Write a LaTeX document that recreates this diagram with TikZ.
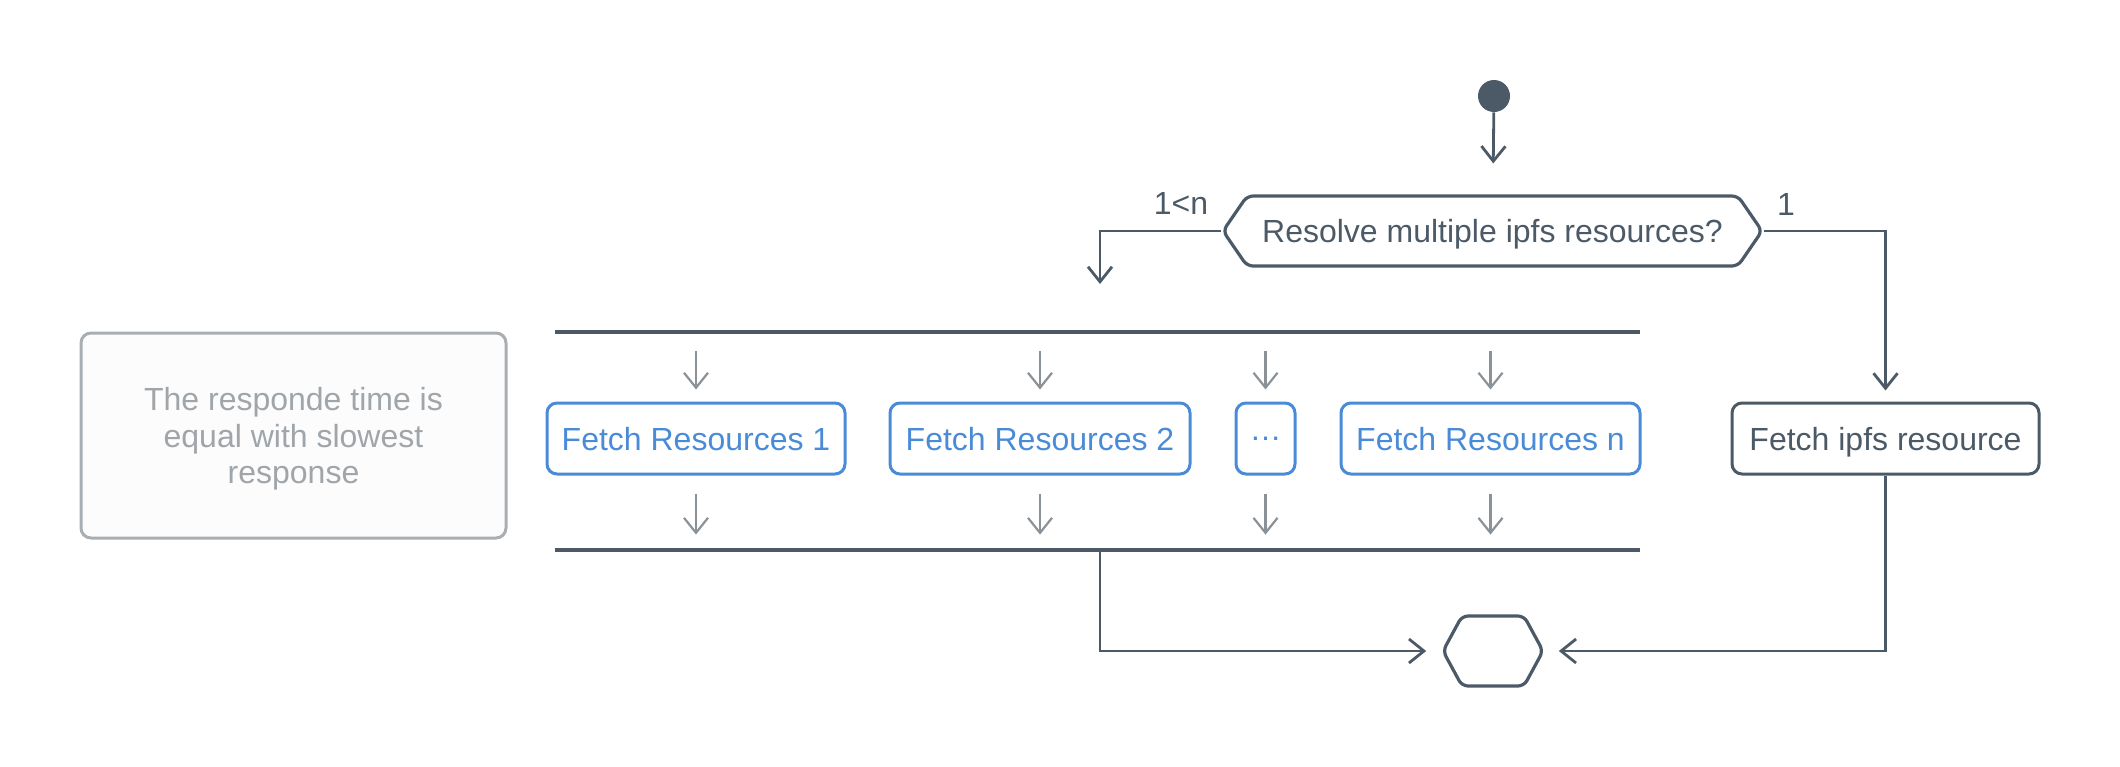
\documentclass[tikz,border=0pt]{standalone}
\usepackage{fontspec}
\setmainfont{Liberation Sans}
\usetikzlibrary{arrows.meta,shapes.symbols}
\definecolor{slate}{HTML}{4C5A67}
\definecolor{fetchblue}{HTML}{4A8BD8}
\definecolor{minorgray}{HTML}{8A9197}
\definecolor{noteline}{HTML}{A9AEB3}
\definecolor{notetext}{HTML}{A0A5AA}
\definecolor{notefill}{HTML}{FCFCFC}
\tikzset{
	flow/.style={draw=slate, line width=1.4pt, -{Straight Barb[length=7.5pt,width=12pt]}},
	minor/.style={draw=minorgray, line width=1.1pt, -{Straight Barb[length=7.5pt,width=12pt]}},
	startdot/.style={circle, fill=slate, inner sep=0pt, minimum size=16pt},
	hexnode/.style={signal, signal to=west and east, draw=slate, line width=1.6pt,
		rounded corners=3pt, inner sep=0pt, text=slate, text depth=0pt},
	barnode/.style={fill=slate, inner sep=0pt, minimum height=2pt},
	fetchbox/.style={draw=fetchblue, line width=1.5pt, rounded corners=5pt, text=fetchblue,
		minimum height=35.5pt, inner sep=0pt, text depth=0pt},
	ipfsbox/.style={fetchbox, draw=slate, text=slate},
	notebox/.style={draw=noteline, fill=notefill, line width=1.5pt, rounded corners=5pt,
		text=notetext, align=center, text depth=0pt, minimum width=212.5pt, minimum height=102.5pt}
}
\begin{document}
\begin{tikzpicture}[x=0.5pt, y=-0.5pt, font=\fontsize{16}{18.3}\selectfont]
				\useasboundingbox (0,0) rectangle (2120,766);

				\node[startdot] (start) at (1494,96) {};
				\node[hexnode, signal pointer angle=111, minimum width=269.5pt, minimum height=35pt] (ask) at (1492.5,231) {Resolve multiple ipfs resources?};
				\node[text=slate] (many) at (1181,203) {1<n};
				\node[text=slate] (single) at (1786,204) {1};
				\coordinate (manyend) at (1100,284);
				\draw[flow, shorten >=15.5pt] (start) -- (ask);
				\draw[flow] (ask.west) -| (manyend);

				\node[barnode, minimum width=542.5pt] (fork) at (1097.5,332) {};
				\node[barnode, minimum width=542.5pt] (join) at (1097.5,550) {};

				\node[fetchbox, minimum width=149pt] (f1) at (696,438.5) {Fetch Resources 1};
				\node[fetchbox, minimum width=150pt] (f2) at (1040,438.5) {Fetch Resources 2};
				\node[fetchbox, minimum width=29.5pt] (fdots) at (1265.5,438.5) {…};
				\node[fetchbox, minimum width=149.5pt] (fn) at (1490.5,438.5) {Fetch Resources n};
				\node[ipfsbox, minimum width=153.5pt] (ipfs) at (1885.5,438.5) {Fetch ipfs resource};

				\foreach \f in {f1,f2,fdots,fn} {
					\draw[minor, shorten <=8.5pt, shorten >=6pt] (\f.north |- fork.south) -- (\f.north);
					\draw[minor, shorten <=9pt, shorten >=6.5pt] (\f.south) -- (\f.south |- join.north);
				}

				\draw[flow, shorten >=5.5pt] (ask.east) -| (ipfs.north);

				\node[hexnode, signal pointer angle=123, minimum width=50pt, minimum height=35pt] (merge) at (1493,651) {};
				\draw[flow, shorten >=7.5pt] (join.south -| manyend) |- (merge.west);
				\draw[flow, shorten >=7pt] (ipfs.south) |- (merge.east);

				\node[notebox] (note) at (293.5,435.5) {The responde time is\\equal with slowest\\response};
			\end{tikzpicture}
\end{document}
